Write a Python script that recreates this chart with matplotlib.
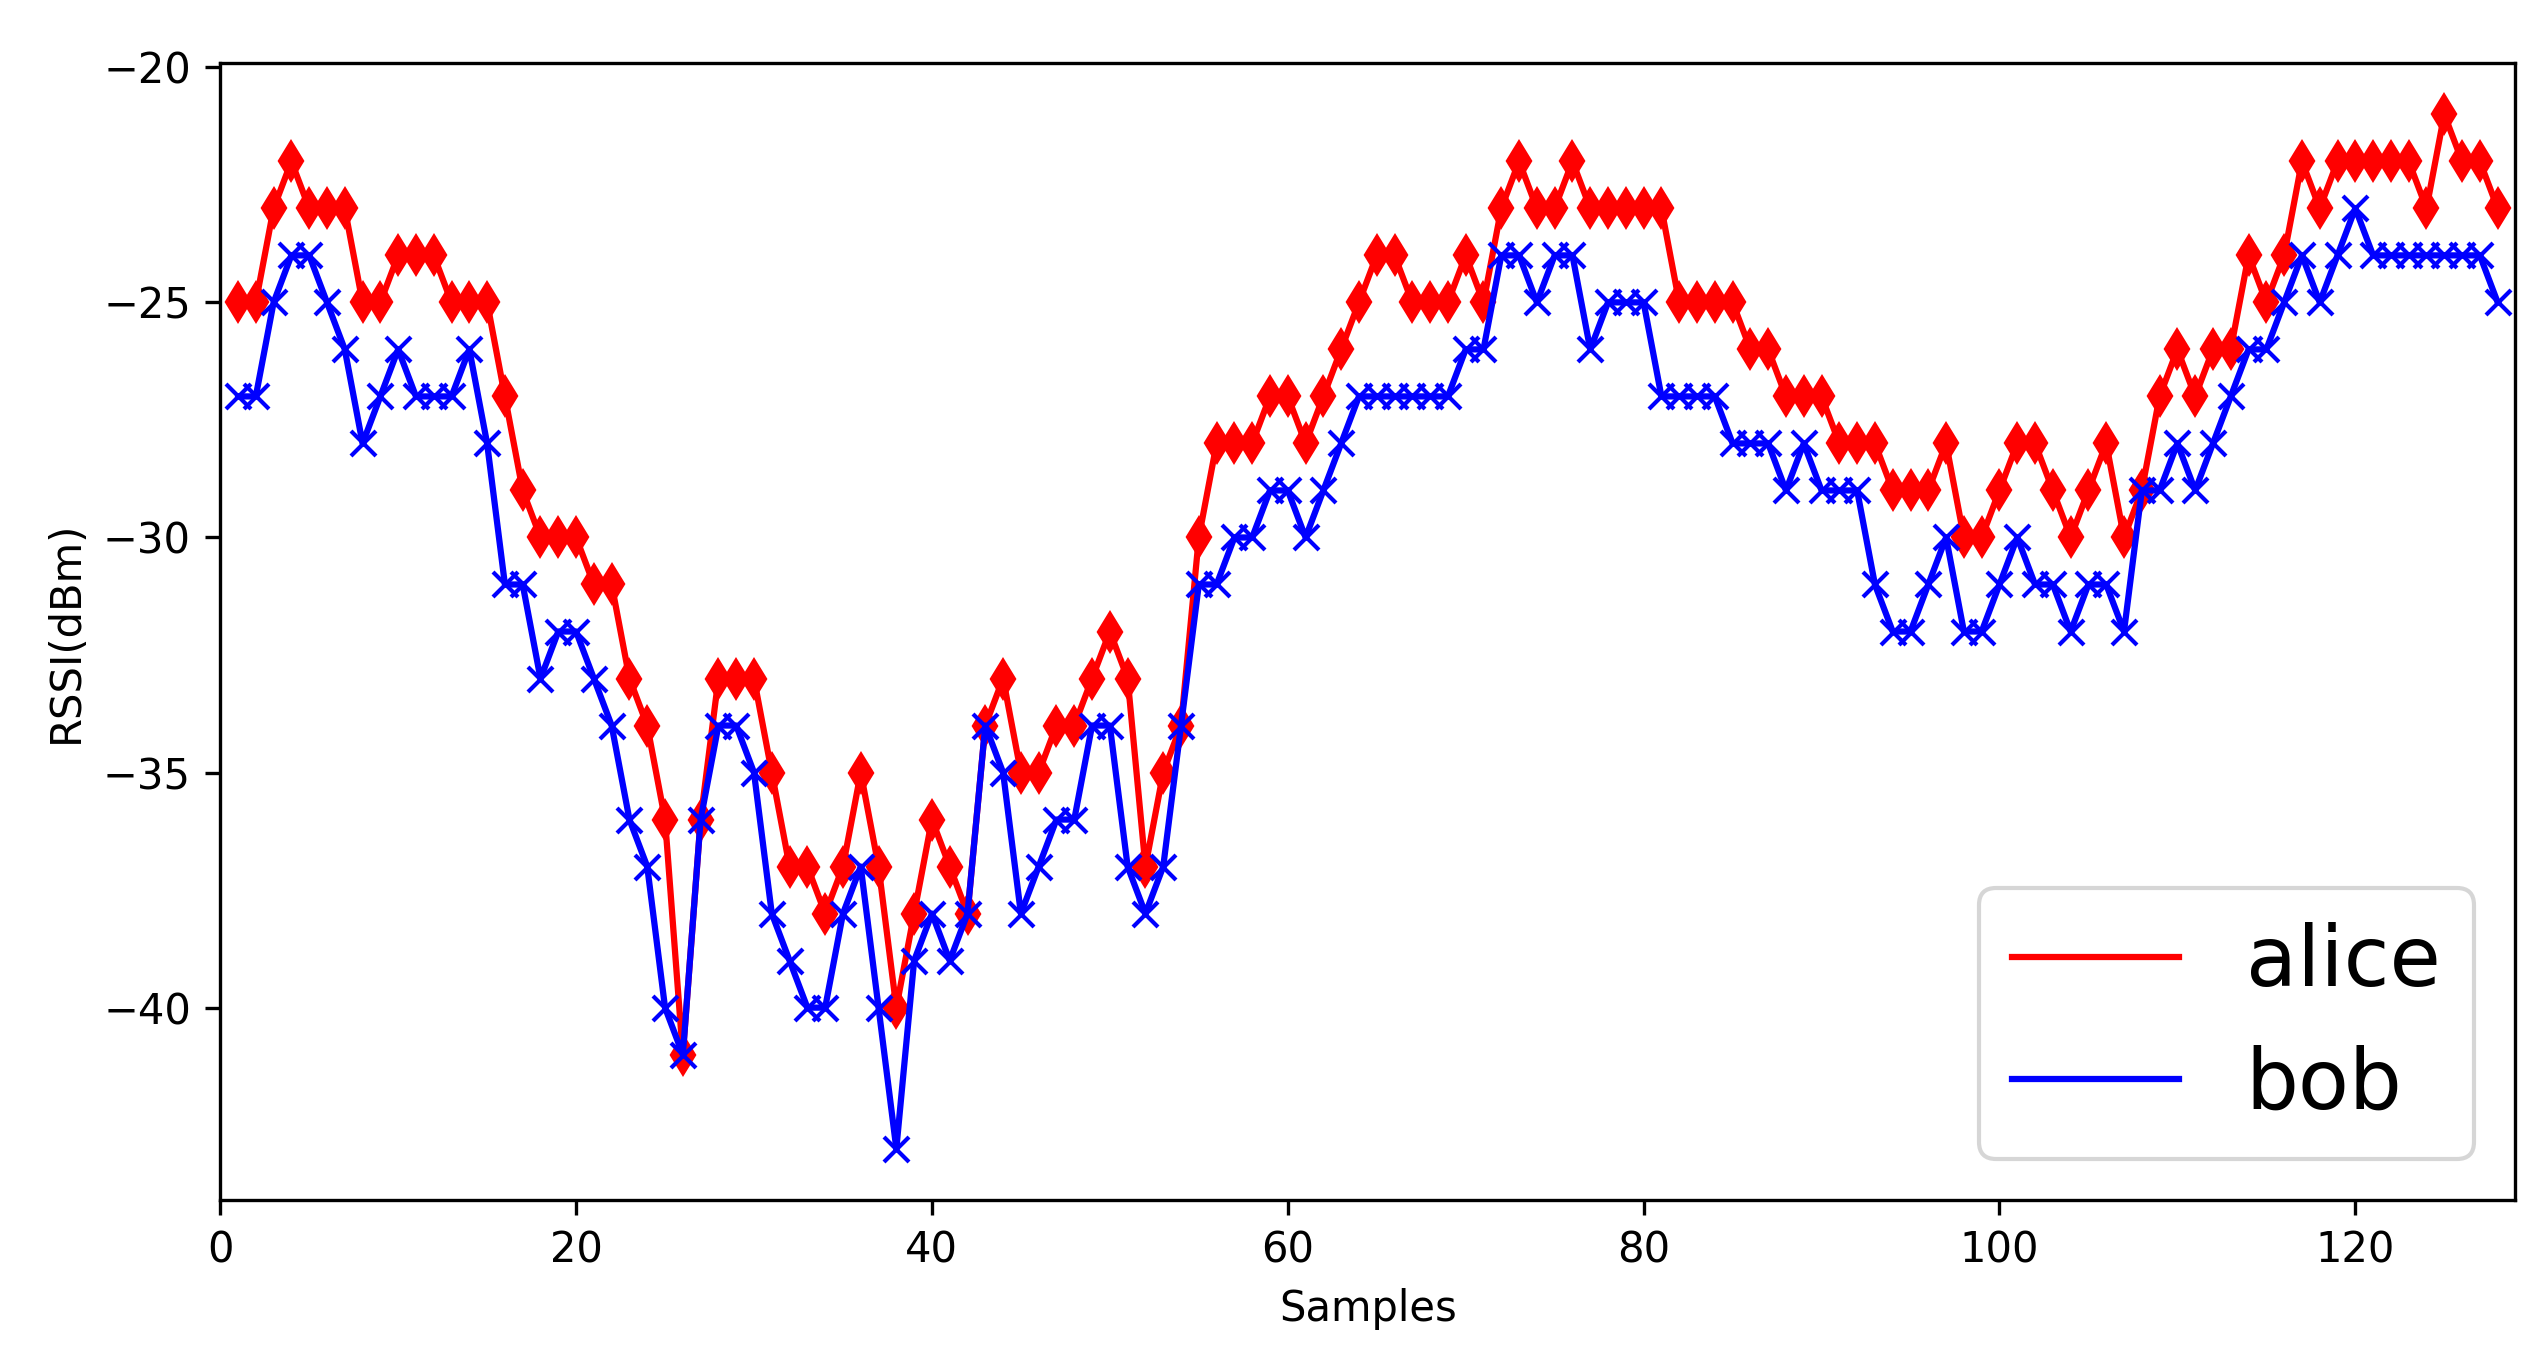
import matplotlib
matplotlib.use("Agg")
import matplotlib.pyplot as plt

samples = list(range(1, 129))
alice = [-25,-25,-23,-22,-23,-23,-23,-25,-25,-24,-24,-24,-25,-25,-25,-27,-29,-30,-30,-30,
         -31,-31,-33,-34,-36,-41,-36,-33,-33,-33,-35,-37,-37,-38,-37,-35,-37,-40,-38,-36,
         -37,-38,-34,-33,-35,-35,-34,-34,-33,-32,-33,-37,-35,-34,-30,-28,-28,-28,-27,-27,
         -28,-27,-26,-25,-24,-24,-25,-25,-25,-24,-25,-23,-22,-23,-23,-22,-23,-23,-23,-23,
         -23,-25,-25,-25,-25,-26,-26,-27,-27,-27,-28,-28,-28,-29,-29,-29,-28,-30,-30,-29,
         -28,-28,-29,-30,-29,-28,-30,-29,-27,-26,-27,-26,-26,-24,-25,-24,-22,-23,-22,-22,
         -22,-22,-22,-23,-21,-22,-22,-23]
bob = [-27,-27,-25,-24,-24,-25,-26,-28,-27,-26,-27,-27,-27,-26,-28,-31,-31,-33,-32,-32,
       -33,-34,-36,-37,-40,-41,-36,-34,-34,-35,-38,-39,-40,-40,-38,-37,-40,-43,-39,-38,
       -39,-38,-34,-35,-38,-37,-36,-36,-34,-34,-37,-38,-37,-34,-31,-31,-30,-30,-29,-29,
       -30,-29,-28,-27,-27,-27,-27,-27,-27,-26,-26,-24,-24,-25,-24,-24,-26,-25,-25,-25,
       -27,-27,-27,-27,-28,-28,-28,-29,-28,-29,-29,-29,-31,-32,-32,-31,-30,-32,-32,-31,
       -30,-31,-31,-32,-31,-31,-32,-29,-29,-28,-29,-28,-27,-26,-26,-25,-24,-25,-24,-23,
       -24,-24,-24,-24,-24,-24,-24,-25]

fig = plt.figure(figsize=(2546/300, 1361/300), dpi=300)
ax = fig.add_axes([0.0865, 0.118, 0.9015, 0.836])
ax.plot(samples, alice, color='red', label='alice')
ax.plot(samples, alice, 'd', color='red')
ax.plot(samples, bob, color='blue', label='bob')
ax.plot(samples, bob, 'x', color='blue')
ax.set_xlim(0, 129)
ax.set_xlabel('Samples')
ax.set_ylabel('RSSI(dBm)')
ax.legend(loc='lower right', fontsize=20)
fig.savefig('out.png', dpi=300)
